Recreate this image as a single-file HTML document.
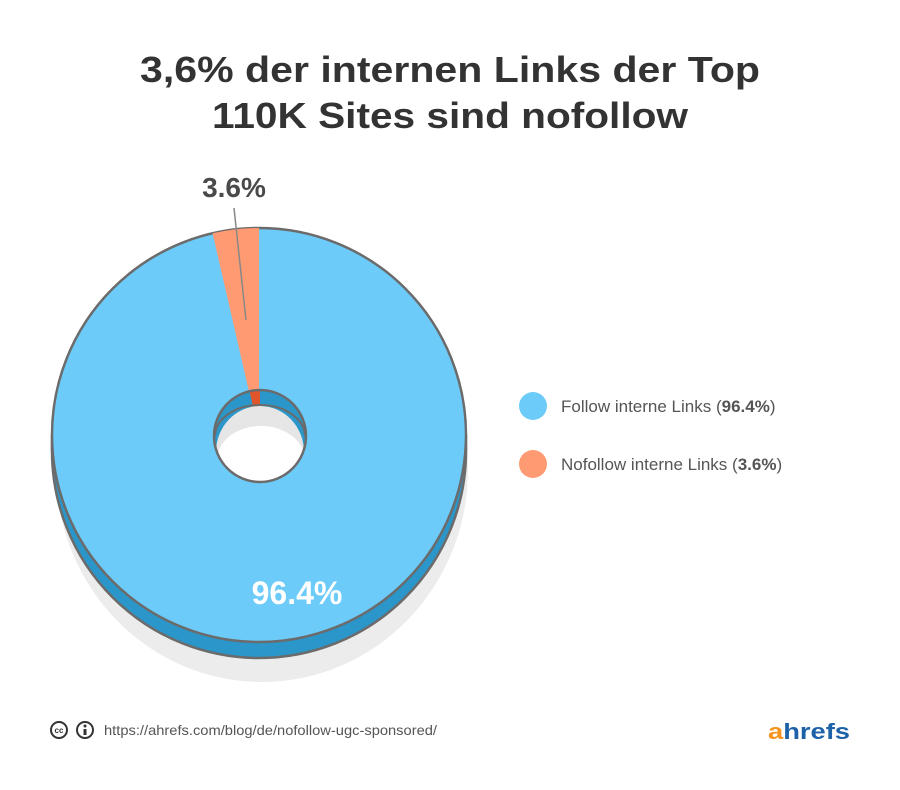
<!DOCTYPE html>
<html><head><meta charset="utf-8"><style>
body{margin:0;background:#fff;}
svg{display:block;font-family:"Liberation Sans",sans-serif;}
</style></head><body>
<svg width="900" height="790" viewBox="0 0 900 790">
<rect width="900" height="790" fill="#fff"/>
<text x="450" y="82" text-anchor="middle" font-size="36" font-weight="bold" fill="#333" textLength="620" lengthAdjust="spacingAndGlyphs">3,6% der internen Links der Top</text>
<text x="450" y="128" text-anchor="middle" font-size="36" font-weight="bold" fill="#333" textLength="476" lengthAdjust="spacingAndGlyphs">110K Sites sind nofollow</text>
<!-- shadow -->
<ellipse cx="262" cy="470" rx="206" ry="212" fill="#ececec"/>
<!-- bottom face / side -->
<ellipse cx="259" cy="451" rx="207" ry="207" fill="#2a96c9" stroke="#6b6b6b" stroke-width="2.5"/>
<rect x="53" y="435" width="412" height="16" fill="#2a96c9"/>
<line x1="52" y1="435" x2="52" y2="451" stroke="#6b6b6b" stroke-width="2.5"/>
<line x1="466" y1="435" x2="466" y2="451" stroke="#6b6b6b" stroke-width="2.5"/>
<!-- top face -->
<circle cx="259" cy="435" r="207" fill="#6dcbf9" stroke="#6b6b6b" stroke-width="2.5"/>
<path d="M259,435 L259,228 A207,207 0 0 0 212.6,233.3 Z" fill="#ff9a72"/>
<!-- hole -->
<defs><clipPath id="h"><circle cx="260" cy="436" r="46"/></clipPath></defs>
<circle cx="260" cy="436" r="46" fill="#2a96c9"/>
<g clip-path="url(#h)">
<path d="M260,436 L260,388 A48,48 0 0 0 249,389 Z" fill="#e0562a"/>
<ellipse cx="260" cy="452" rx="44" ry="46" fill="#e6e6e6"/>
<ellipse cx="261" cy="460" rx="44" ry="34" fill="#fff"/>
</g>
<circle cx="260" cy="436" r="46" fill="none" stroke="#6b6b6b" stroke-width="2.5"/>
<path d="M215,436 A45,31 0 0 1 305,436" fill="none" stroke="#6b6b6b" stroke-width="2"/>
<!-- leader -->
<line x1="234" y1="208" x2="246" y2="320" stroke="#888" stroke-width="1.5"/>
<text x="234" y="197" text-anchor="middle" font-size="28" font-weight="bold" fill="#4a4a4a">3.6%</text>
<text x="297" y="604" text-anchor="middle" font-size="32" font-weight="bold" fill="#fff">96.4%</text>
<!-- legend -->
<circle cx="533" cy="406" r="14" fill="#6dcbf9"/>
<text x="561" y="412" font-size="17" fill="#555">Follow interne Links (<tspan font-weight="bold">96.4%</tspan>)</text>
<circle cx="533" cy="464" r="14" fill="#ff9a72"/>
<text x="561" y="470" font-size="17" fill="#555">Nofollow interne Links (<tspan font-weight="bold">3.6%</tspan>)</text>
<!-- footer -->
<circle cx="59" cy="730" r="8" fill="none" stroke="#333" stroke-width="2"/>
<text x="59" y="733" text-anchor="middle" font-size="8" font-weight="bold" fill="#333">cc</text>
<circle cx="85" cy="730" r="8" fill="none" stroke="#333" stroke-width="2"/>
<circle cx="85" cy="726" r="1.5" fill="#333"/>
<rect x="83.5" y="729" width="3" height="6" fill="#333"/>
<text x="104" y="735" font-size="14" fill="#555" textLength="333" lengthAdjust="spacingAndGlyphs">https://ahrefs.com/blog/de/nofollow-ugc-sponsored/</text>
<text x="768" y="739" font-size="22" font-weight="bold" fill="#1d62a8" textLength="82" lengthAdjust="spacingAndGlyphs"><tspan fill="#f7931e">a</tspan>hrefs</text>
</svg>
</body></html>
